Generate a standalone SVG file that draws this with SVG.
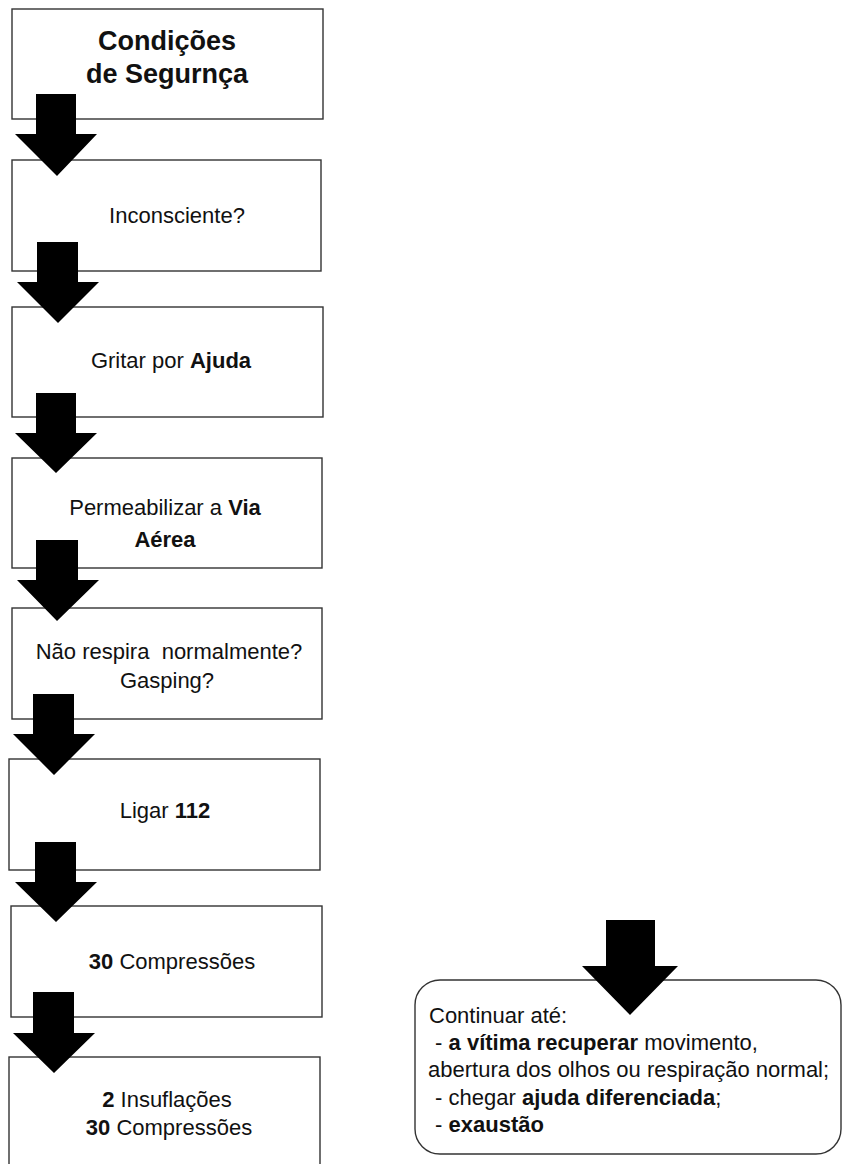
<svg xmlns="http://www.w3.org/2000/svg" width="842" height="1164" viewBox="0 0 842 1164">
  <style>
    .box { fill: #ffffff; stroke: #333333; stroke-width: 1.4; }
    .arrow { fill: #000000; stroke: none; }
    text { font-family: "Liberation Sans", Arial, sans-serif; font-size: 22px; fill: #111111; white-space: pre; }
    .c { text-anchor: middle; }
    .b { font-weight: bold; }
    .title { font-size: 27px; font-weight: bold; }
  </style>

  <!-- step boxes -->
  <g id="node-seguranca">
    <rect class="box" x="12" y="9" width="311" height="110"/>
    <text class="c title" x="167" y="50">Condições</text>
    <text class="c title" x="167" y="83">de Segurnça</text>
  </g>
  <g id="node-inconsciente">
    <rect class="box" x="12" y="160" width="309" height="111"/>
    <text class="c" x="177" y="223">Inconsciente?</text>
  </g>
  <g id="node-ajuda">
    <rect class="box" x="12" y="307" width="311" height="110"/>
    <text class="c" x="171" y="368">Gritar por <tspan class="b">Ajuda</tspan></text>
  </g>
  <g id="node-via-aerea">
    <rect class="box" x="12" y="458" width="310" height="110"/>
    <text class="c" x="165" y="515">Permeabilizar a <tspan class="b">Via</tspan></text>
    <text class="c b" x="165" y="547">Aérea</text>
  </g>
  <g id="node-respira">
    <rect class="box" x="12" y="608" width="310" height="111"/>
    <text class="c" x="169" y="659">Não respira  normalmente?</text>
    <text class="c" x="167" y="688">Gasping?</text>
  </g>
  <g id="node-112">
    <rect class="box" x="9" y="759" width="311" height="111"/>
    <text class="c" x="165" y="818">Ligar <tspan class="b">112</tspan></text>
  </g>
  <g id="node-compressoes">
    <rect class="box" x="11" y="906" width="311" height="111"/>
    <text class="c" x="172" y="969"><tspan class="b">30</tspan> Compressões</text>
  </g>
  <g id="node-ciclo">
    <rect class="box" x="9" y="1057" width="311" height="130"/>
    <text class="c" x="167" y="1107"><tspan class="b">2</tspan> Insuflações</text>
    <text class="c" x="169" y="1135"><tspan class="b">30</tspan> Compressões</text>
  </g>
  <g id="node-continuar">
    <rect class="box" x="415" y="980" width="426" height="174" rx="25" ry="25"/>
    <text x="429" y="1023">Continuar até:</text>
    <text x="429" y="1050"> - <tspan class="b">a vítima recuperar</tspan> movimento,</text>
    <text x="428" y="1077">abertura dos olhos ou respiração normal;</text>
    <text x="429" y="1105"> - chegar <tspan class="b">ajuda diferenciada</tspan>;</text>
    <text x="429" y="1132"> - <tspan class="b">exaustão</tspan></text>
  </g>

  <!-- block arrows between steps -->
  <g id="connectors">
    <polygon class="arrow" points="36,94 76,94 76,134 97,134 57,176 15,134 36,134"/>
    <polygon class="arrow" points="37,242 78,242 78,282 99,282 58,323 17,282 37,282"/>
    <polygon class="arrow" points="36,393 76,393 76,433 97,433 56,473 15,433 36,433"/>
    <polygon class="arrow" points="36,540 78,540 78,580 99,580 57,621 17,580 36,580"/>
    <polygon class="arrow" points="33,694 74,694 74,734 95,734 54,775 13,734 33,734"/>
    <polygon class="arrow" points="35,842 76,842 76,882 97,882 56,922 15,882 35,882"/>
    <polygon class="arrow" points="33,992 74,992 74,1033 95,1033 54,1073 13,1033 33,1033"/>
    <polygon class="arrow" points="606,920 655,920 655,966 678,966 630,1015 582,966 606,966"/>
  </g>
</svg>
